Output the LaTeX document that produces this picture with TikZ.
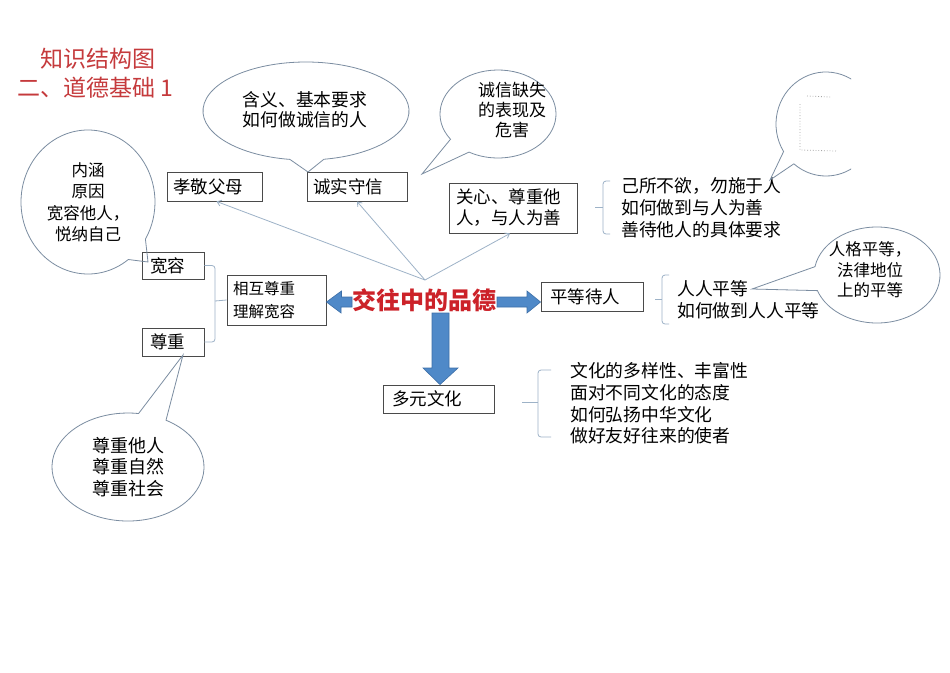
\documentclass[tikz,border=0pt]{standalone}
\usepackage{fontspec}
\setmainfont{Noto Sans CJK SC}
\usetikzlibrary{arrows.meta,calc}
\definecolor{titlered}{HTML}{C53A3C}
\definecolor{cred}{HTML}{CC2229}
\definecolor{boxcol}{HTML}{4A4A4A}
\definecolor{conncol}{HTML}{9DB2C7}
\definecolor{callcol}{HTML}{7B8DA1}
\definecolor{arrfill}{HTML}{4F89C8}
\definecolor{arrdraw}{HTML}{3D6FA8}
\newcommand\fsz[2]{\fontsize{#1}{#2}\selectfont}
\begin{document}
\begin{tikzpicture}[x=1pt,y=-1pt,
  box/.style={draw=boxcol, line width=0.9pt, fill=white, inner xsep=6pt, inner ysep=0pt, align=left, font=\fsz{17.5}{21}},
  conn/.style={draw=conncol, line width=0.8pt},
  callout/.style={draw=callcol, line width=0.8pt},
  bigarrow/.style={fill=arrfill, draw=arrdraw, line width=0.6pt, line join=miter},
  txt/.style={inner sep=0pt, font=\fsz{17.8}{22}},
  ctxt/.style={inner sep=0pt, align=center, font=\fsz{16.5}{21.5}}]
\useasboundingbox (0,0) rectangle (950,672);
\fill[white] (0,0) rectangle (950,672);

% titles
\node[anchor=west, inner sep=0pt, text=titlered, font=\fsz{23}{27}] (t1) at (40,59) {知识结构图};
\node[anchor=west, inner sep=0pt, text=titlered, font=\fsz{23}{27}] (t2) at (17,88) {二、道德基础 1};

% boxes
\node[box, text width=83pt, minimum height=29pt] (kx) at (214.5,186.5) {孝敬父母};
\node[box, text width=88pt, minimum height=29pt] (cs) at (357,186.5) {诚实守信};
\node[box, inner xsep=7pt, text width=114pt, minimum height=50pt] (gx) at (513,208) {关心、尊重他\\人，与人为善};
\node[box, inner xsep=8pt, text width=46pt, minimum height=27pt] (kr) at (173,265.5) {宽容};
\node[box, inner xsep=8pt, text width=46pt, minimum height=28pt] (zz) at (173,342) {尊重};
\node[box, font=\fsz{15.5}{23}, text width=87pt, minimum height=50pt] (xh) at (276.5,300) {相互尊重\\理解宽容};
\node[box, inner xsep=9pt, text width=84pt, minimum height=29pt] (pd) at (592,296.5) {平等待人};
\node[box, inner xsep=9pt, text width=93pt, minimum height=28pt] (dy) at (438.5,399) {多元文化};

% centre
\node[inner sep=0pt, text=cred, font=\bfseries\fsz{24}{28}] (ctr) at (424,300) {交往中的品德};

% big blue arrows
\draw[bigarrow] (xh.east |- 0,302) -- ++(15,-11) -- ++(0,6) -- (352,297) -- (352,307) -- (341,307) -- ++(0,6) -- cycle;
\draw[bigarrow] (497,297) -- (527,297) -- (527,291) -- (pd.west |- 0,302) -- (527,313) -- (527,307) -- (497,307) -- cycle;
\draw[bigarrow] (432,313) -- (449,313) -- (449,368) -- (458,368) -- (dy.north -| 440,0) -- (423,368) -- (432,368) -- cycle;

% thin arrows from hub
\coordinate (hub) at (425,280);
\draw[conn, -{Straight Barb[length=4pt,width=6pt]}] (hub) -- ([xshift=2pt]kx.south);
\draw[conn, -{Straight Barb[length=4pt,width=6pt]}] (hub) -- (cs.south);
\draw[conn, -{Straight Barb[length=4pt,width=6pt]}] (hub) -- ([xshift=-3pt]gx.south);

% left bracket
\coordinate (bl) at (215,301);
\draw[conn, rounded corners=3pt] (kr.east) -| (bl) |- (zz.east);
\draw[conn] (bl) -- (xh.west);

% right brackets
\coordinate (b1) at (603,207);
\draw[conn, rounded corners=3pt] (610,181) -| (b1) |- (610,234);
\draw[conn] (595,207) -- (b1);
\node[txt, anchor=west, align=left] (r1) at (621,208) {己所不欲，勿施于人\\如何做到与人为善\\善待他人的具体要求};

\coordinate (b2) at (662,299);
\draw[conn, rounded corners=3pt] (669,275) -| (b2) |- (669,324);
\draw[conn] (655,299) -- (b2);
\node[txt, anchor=west, align=left] (r2) at (677,300) {人人平等\\如何做到人人平等};

\coordinate (b3) at (538,402);
\draw[conn, rounded corners=3pt] (551,370) -| (b3) |- (551,437);
\draw[conn] (522,402) -- (b3);
\node[txt, anchor=west, align=left, font=\fsz{17.8}{21.7}] (r3) at (570,403.5) {文化的多样性、丰富性\\面对不同文化的态度\\如何弘扬中华文化\\做好友好往来的使者};

% callouts
\draw[callout] (148,262) -- ($(88,202)+(53:67 and 72)$) arc[start angle=53, end angle=391, x radius=67, y radius=72] -- cycle;
\node[ctxt] (c1) at (88,202) {内涵\\原因\\宽容他人，\\悦纳自己};

\draw[callout] (308,172) -- ($(306,111)+(99:103 and 49)$) arc[start angle=99, end angle=440, x radius=103, y radius=49] -- cycle;
\node[ctxt, font=\fsz{17.8}{20}] (c2) at (305,110) {含义、基本要求\\如何做诚信的人};

\draw[callout] (422,174) -- ($(498,114)+(145:58 and 44)$) arc[start angle=145, end angle=480, x radius=58, y radius=44] -- cycle;
\node[ctxt, font=\fsz{17}{20}] (c3) at (512,110) {诚信缺失\\的表现及\\危害};

\begin{scope}
\clip (0,0) rectangle (851,672);
\draw[callout] (770,180) -- ($(826,124)+(148:50 and 52)$) arc[start angle=148, end angle=490, x radius=50, y radius=52] -- cycle;
\end{scope}
\draw[gray!70, line width=0.8pt, dotted] (800,104) -- (800,150) -- (836,151);
\draw[gray!70, line width=0.8pt, dotted] (807,96) -- (830,97);

\draw[callout] (752,289) -- ($(877,275)+(190:63 and 48)$) arc[start angle=190, end angle=521, x radius=63, y radius=48] -- cycle;
\node[ctxt, font=\fsz{16.5}{20.5}] (c5) at (870,270) {人格平等，\\法律地位\\上的平等};

\draw[callout] (183,355) -- ($(128,467)+(300:76 and 54)$) arc[start angle=300, end angle=638, x radius=76, y radius=54] -- cycle;
\node[ctxt, font=\fsz{18}{21.5}] (c6) at (128,467) {尊重他人\\尊重自然\\尊重社会};
\end{tikzpicture}
\end{document}
